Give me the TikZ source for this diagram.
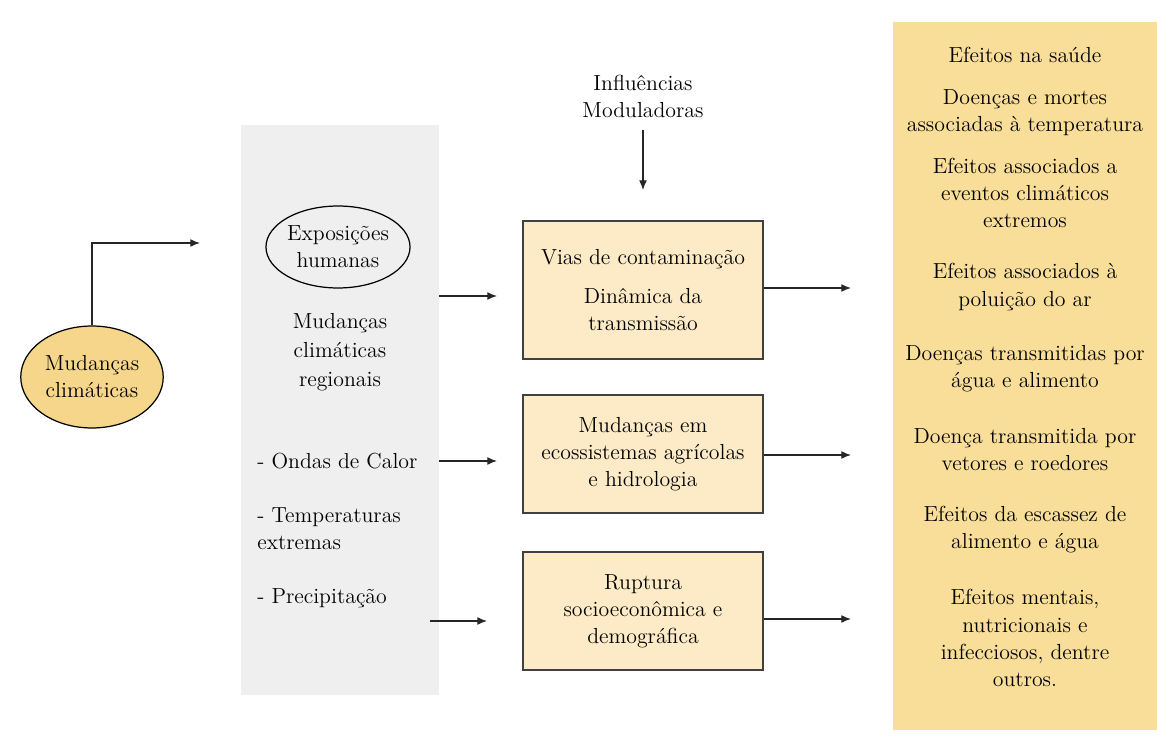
\documentclass[tikz,border=0pt]{standalone}
\usepackage{fontspec}
\usepackage{xcolor}
\usetikzlibrary{arrows.meta,shapes.geometric}

\definecolor{ellyellow}{HTML}{F6D68A}
\definecolor{boxyellow}{HTML}{FCEBC6}
\definecolor{panelyellow}{HTML}{F9DE9A}
\definecolor{panelgray}{HTML}{EFEFEF}

\begin{document}
\begin{tikzpicture}[x=0.02cm, y=-0.02cm,
    every node/.style={font=\fontsize{12.4}{15.4}\selectfont, align=center, inner sep=0pt},
    ell_node/.style={ellipse, draw, line width=0.7pt},
    box_node/.style={rectangle, draw=black!75, line width=1pt, fill=boxyellow, minimum width=4.8cm},
    bg_node/.style={rectangle, draw=none},
    arr/.style={-{Latex[length=5.5pt,width=4.5pt]}, line width=0.7pt, black!85}]

    \useasboundingbox (0,0) rectangle (1157,746);

    % background panels
    \node[bg_node, fill=panelgray, minimum width=3.96cm, minimum height=11.4cm] (exp_panel) at (340,410) {};
    \node[bg_node, fill=panelyellow, minimum width=5.28cm, minimum height=14.16cm] (health_panel) at (1025,376) {};

    % left part
    \node[ell_node, fill=ellyellow, minimum width=2.85cm, minimum height=2.04cm] (climate) at (92,377) {Mudanças\\climáticas};
    \coordinate (climate_to) at (200,243);
    \draw[arr] (climate.north) |- (climate_to);

    \node[ell_node, minimum width=2.85cm, minimum height=1.64cm] (exposure) at (338,247) {Exposições\\humanas};
    \node[font=\fontsize{12.4}{16.6}\selectfont] (regional) at (340,352) {Mudanças\\climáticas\\regionais};
    \node[anchor=west] (heat) at (257,461) {- Ondas de Calor};
    \node[anchor=west, align=left] (temps) at (257,529) {- Temperaturas\\extremas};
    \node[anchor=west] (rain) at (257,598) {- Precipitação};

    % middle boxes
    \node (modulating) at (643,96) {Influências\\Moduladoras};
    \coordinate (modulating_to) at (643,190);
    \draw[arr] ([yshift=-7pt]modulating.south) -- (modulating_to);

    \node[box_node, minimum height=2.76cm] (pathways) at (643,290) {Vias de contaminação\\[7pt]Dinâmica da\\transmissão};
    \node[box_node, minimum height=2.36cm] (ecosystems) at (643,454) {Mudanças em\\ecossistemas agrícolas\\e hidrologia};
    \node[box_node, minimum height=2.36cm] (disruption) at (643,611) {Ruptura\\socioeconômica e\\demográfica};

    \coordinate (pathways_in) at (497,296);
    \coordinate (ecosystems_in) at (497,461);
    \coordinate (rain_from) at (430,621);
    \coordinate (disruption_in) at (487,621);
    \draw[arr] (exp_panel.east |- pathways_in) -- (pathways_in);
    \draw[arr] (exp_panel.east |- ecosystems_in) -- (ecosystems_in);
    \draw[arr] (rain_from) -- (disruption_in);

    \coordinate (pathways_out) at (851,288);
    \coordinate (ecosystems_out) at (851,455);
    \coordinate (disruption_out) at (851,619);
    \draw[arr] (pathways.east |- pathways_out) -- (pathways_out);
    \draw[arr] (ecosystems.east |- ecosystems_out) -- (ecosystems_out);
    \draw[arr] (disruption.east |- disruption_out) -- (disruption_out);

    % health effects
    \node (h1) at (1025,55) {Efeitos na saúde};
    \node (h2) at (1025,113) {Doenças e mortes\\associadas à temperatura};
    \node (h3) at (1025,193) {Efeitos associados a\\eventos climáticos\\extremos};
    \node (h4) at (1025,287) {Efeitos associados à\\poluição do ar};
    \node (h5) at (1025,369) {Doenças transmitidas por\\água e alimento};
    \node (h6) at (1025,450) {Doença transmitida por\\vetores e roedores};
    \node (h7) at (1025,530) {Efeitos da escassez de\\alimento e água};
    \node (h8) at (1025,638) {Efeitos mentais,\\nutricionais e\\infecciosos, dentre\\outros.};
\end{tikzpicture}
\end{document}
